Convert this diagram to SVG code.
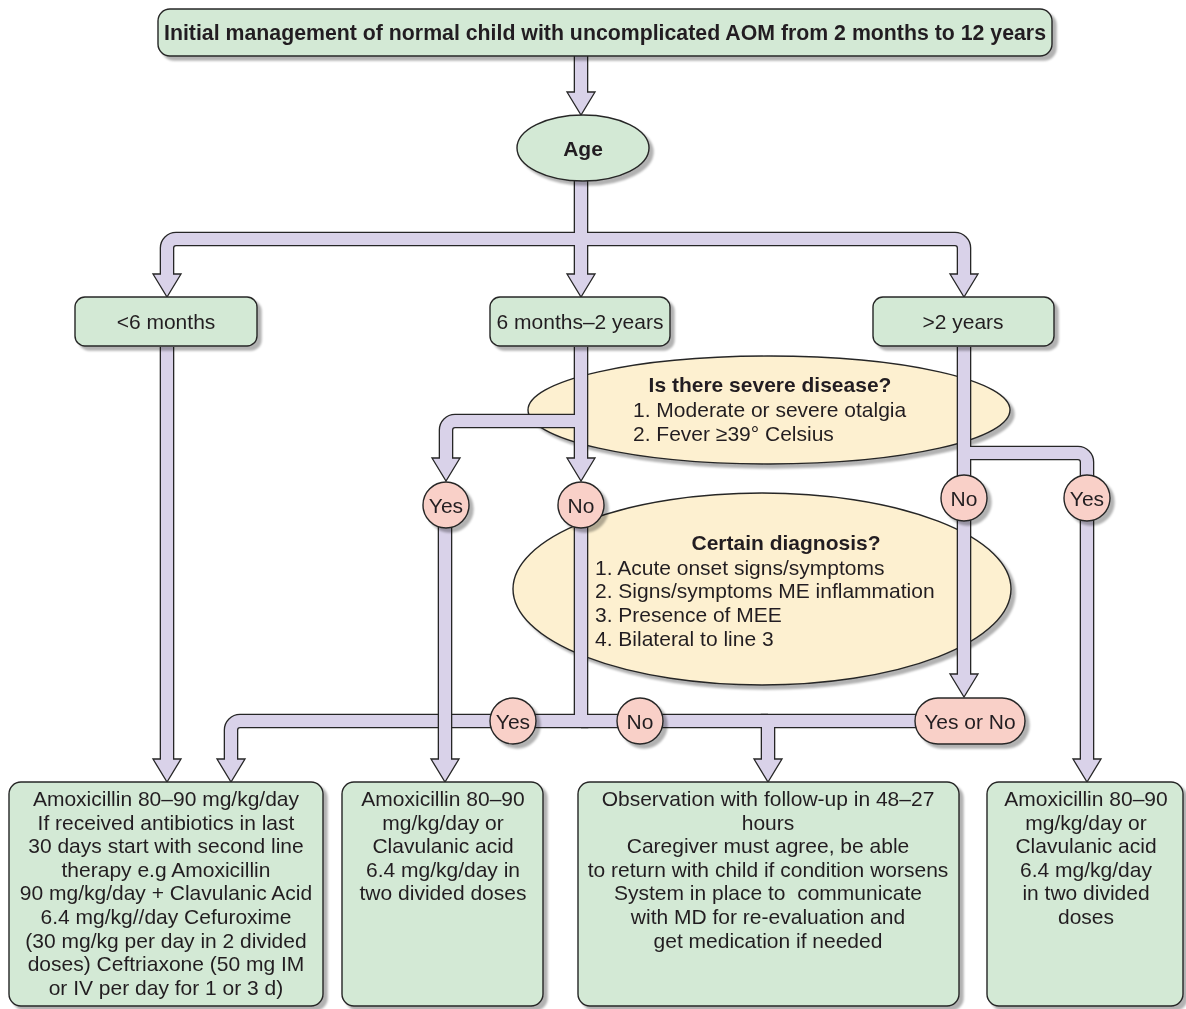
<svg xmlns="http://www.w3.org/2000/svg" width="1186" height="1009" viewBox="0 0 1186 1009">
<style>
text{font-family:"Liberation Sans",Arial,Helvetica,sans-serif;font-size:21px;fill:#231f20}
.b{font-weight:bold}
.t{font-size:21.3px}
.c{text-anchor:middle}
.box{fill:#d3e9d5;stroke:#262626;stroke-width:1.4}
.oval{fill:#d3e9d5;stroke:#262626;stroke-width:1.4}
.q{fill:#fdf0d0;stroke:#262626;stroke-width:1.4}
.yn{fill:#f9d0c8;stroke:#262626;stroke-width:1.4}
.sh{filter:url(#ds)}
.po{fill:none;stroke:#262626;stroke-width:14.6}
.pf{fill:none;stroke:#d9d2e9;stroke-width:12}
.ah{marker-end:url(#arr)}
</style>
<defs>
<filter id="ds" x="-10%" y="-10%" width="130%" height="130%">
<feDropShadow dx="4" dy="4" stdDeviation="1" flood-color="#000" flood-opacity="0.3"/>
</filter>
<marker id="arr" markerUnits="userSpaceOnUse" orient="auto" markerWidth="30" markerHeight="32" viewBox="0 -16 30 32" refX="1.5" refY="0" overflow="visible">
<path d="M0,-14 L23,0 L0,14 Z" fill="#d9d2e9" stroke="#262626" stroke-width="1.3"/>
</marker>
</defs>

<g id="q-severe" class="sh">
<ellipse class="q" cx="769" cy="410" rx="241" ry="54"/>
<text class="b c" x="770" y="392">Is there severe disease?</text>
<text x="633" y="417">1. Moderate or severe otalgia</text>
<text x="633" y="441">2. Fever ≥39° Celsius</text>
</g>
<g id="q-diagnosis" class="sh">
<ellipse class="q" cx="762" cy="589" rx="249" ry="96"/>
<text class="b c" x="786" y="550">Certain diagnosis?</text>
<text x="595" y="575">1. Acute onset signs/symptoms</text>
<text x="595" y="598">2. Signs/symptoms ME inflammation</text>
<text x="595" y="622">3. Presence of MEE</text>
<text x="595" y="646">4. Bilateral to line 3</text>
</g>

<g id="connectors">
<path class="po ah" d="M581,56 V93.5"/>
<path class="po ah" d="M581,180 V239 H176 A9,9 0 0 0 167,248 V275.5"/>
<path class="po ah" d="M581,239 V275.5"/>
<path class="po ah" d="M581,239 H955 A9,9 0 0 1 964,248 V275.5"/>
<path class="po ah" d="M167,347 V760.5"/>
<path class="po ah" d="M581,347 V459.5"/>
<path class="po ah" d="M581,421 H455 A9,9 0 0 0 446,430 V459.5"/>
<path class="po ah" d="M581,505 V721 H240 A9,9 0 0 0 231,730 V760.5"/>
<path class="po" d="M581,721 H768"/>
<path class="po ah" d="M944,721 H768 V760.5"/>
<path class="po" d="M964,347 V498"/>
<path class="po" d="M964,453 H1078 A9,9 0 0 1 1087,462 V498"/>
<path class="po ah" d="M964,498 V675.5"/>
<path class="po ah" d="M1087,498 V760.5"/>

<path class="pf" d="M581,56 V93.5"/>
<path class="pf" d="M581,180 V239 H176 A9,9 0 0 0 167,248 V275.5"/>
<path class="pf" d="M581,239 V275.5"/>
<path class="pf" d="M581,239 H955 A9,9 0 0 1 964,248 V275.5"/>
<path class="pf" d="M167,347 V760.5"/>
<path class="pf" d="M581,347 V459.5"/>
<path class="pf" d="M581,421 H455 A9,9 0 0 0 446,430 V459.5"/>
<path class="pf" d="M581,505 V721 H240 A9,9 0 0 0 231,730 V760.5"/>
<path class="pf" d="M581,721 H768"/>
<path class="pf" d="M944,721 H768 V760.5"/>
<path class="pf" d="M964,347 V498"/>
<path class="pf" d="M964,453 H1078 A9,9 0 0 1 1087,462 V498"/>
<path class="pf" d="M964,498 V675.5"/>
<path class="pf" d="M1087,498 V760.5"/>

<path class="po ah" d="M445,505 V760.5"/>
<path class="pf" d="M445,505 V760.5"/>
</g>

<g id="title" class="sh">
<rect class="box" x="158" y="9" width="894" height="47" rx="12"/>
<text class="b c t" x="605" y="40">Initial management of normal child with uncomplicated AOM from 2 months to 12 years</text>
</g>
<g id="age" class="sh">
<ellipse class="oval" cx="583" cy="148" rx="66" ry="33"/>
<text class="b c" x="583" y="156">Age</text>
</g>
<g id="lt6m" class="sh">
<rect class="box" x="75" y="297" width="182" height="49" rx="10"/>
<text class="c" x="166" y="329">&lt;6 months</text>
</g>
<g id="6m2y" class="sh">
<rect class="box" x="490" y="297" width="180" height="49" rx="10"/>
<text class="c" x="580" y="329">6 months–2 years</text>
</g>
<g id="gt2y" class="sh">
<rect class="box" x="873" y="297" width="181" height="49" rx="10"/>
<text class="c" x="963" y="329">&gt;2 years</text>
</g>

<g id="yes-severe" class="sh">
<circle class="yn" cx="446" cy="505" r="23"/>
<text class="c" x="446" y="513">Yes</text>
</g>
<g id="no-severe" class="sh">
<circle class="yn" cx="581" cy="505" r="23"/>
<text class="c" x="581" y="513">No</text>
</g>
<g id="no-gt2" class="sh">
<circle class="yn" cx="964" cy="498" r="23"/>
<text class="c" x="964" y="506">No</text>
</g>
<g id="yes-gt2" class="sh">
<circle class="yn" cx="1087" cy="498" r="23"/>
<text class="c" x="1087" y="506">Yes</text>
</g>
<g id="yes-diag" class="sh">
<circle class="yn" cx="513" cy="721" r="23"/>
<text class="c" x="513" y="729">Yes</text>
</g>
<g id="no-diag" class="sh">
<circle class="yn" cx="640" cy="721" r="23"/>
<text class="c" x="640" y="729">No</text>
</g>
<g id="yesorno" class="sh">
<rect class="yn" x="915" y="698" width="110" height="46" rx="23"/>
<text class="c" x="970" y="729">Yes or No</text>
</g>

<g id="tx-a" class="sh">
<rect class="box" x="9" y="782" width="314" height="224" rx="12"/>
<text class="c" x="166" y="806">Amoxicillin 80–90 mg/kg/day</text>
<text class="c" x="166" y="829.6">If received antibiotics in last</text>
<text class="c" x="166" y="853.2">30 days start with second line</text>
<text class="c" x="166" y="876.8">therapy e.g Amoxicillin</text>
<text class="c" x="166" y="900.4">90 mg/kg/day + Clavulanic Acid</text>
<text class="c" x="166" y="924">6.4 mg/kg//day Cefuroxime</text>
<text class="c" x="166" y="947.6">(30 mg/kg per day in 2 divided</text>
<text class="c" x="166" y="971.2">doses) Ceftriaxone (50 mg IM</text>
<text class="c" x="166" y="994.8">or IV per day for 1 or 3 d)</text>
</g>
<g id="tx-b" class="sh">
<rect class="box" x="342" y="782" width="201" height="224" rx="12"/>
<text class="c" x="443" y="806">Amoxicillin 80–90</text>
<text class="c" x="443" y="829.6">mg/kg/day or</text>
<text class="c" x="443" y="853.2">Clavulanic acid</text>
<text class="c" x="443" y="876.8">6.4 mg/kg/day in</text>
<text class="c" x="443" y="900.4">two divided doses</text>
</g>
<g id="observe" class="sh">
<rect class="box" x="578" y="782" width="381" height="224" rx="12"/>
<text class="c" x="768" y="806">Observation with follow-up in 48–27</text>
<text class="c" x="768" y="829.6">hours</text>
<text class="c" x="768" y="853.2">Caregiver must agree, be able</text>
<text class="c" x="768" y="876.8">to return with child if condition worsens</text>
<text class="c" x="768" y="900.4" xml:space="preserve">System in place to  communicate</text>
<text class="c" x="768" y="924">with MD for re-evaluation and</text>
<text class="c" x="768" y="947.6">get medication if needed</text>
</g>
<g id="tx-d" class="sh">
<rect class="box" x="987" y="782" width="196" height="224" rx="12"/>
<text class="c" x="1086" y="806">Amoxicillin 80–90</text>
<text class="c" x="1086" y="829.6">mg/kg/day or</text>
<text class="c" x="1086" y="853.2">Clavulanic acid</text>
<text class="c" x="1086" y="876.8">6.4 mg/kg/day</text>
<text class="c" x="1086" y="900.4">in two divided</text>
<text class="c" x="1086" y="924">doses</text>
</g>
</svg>
